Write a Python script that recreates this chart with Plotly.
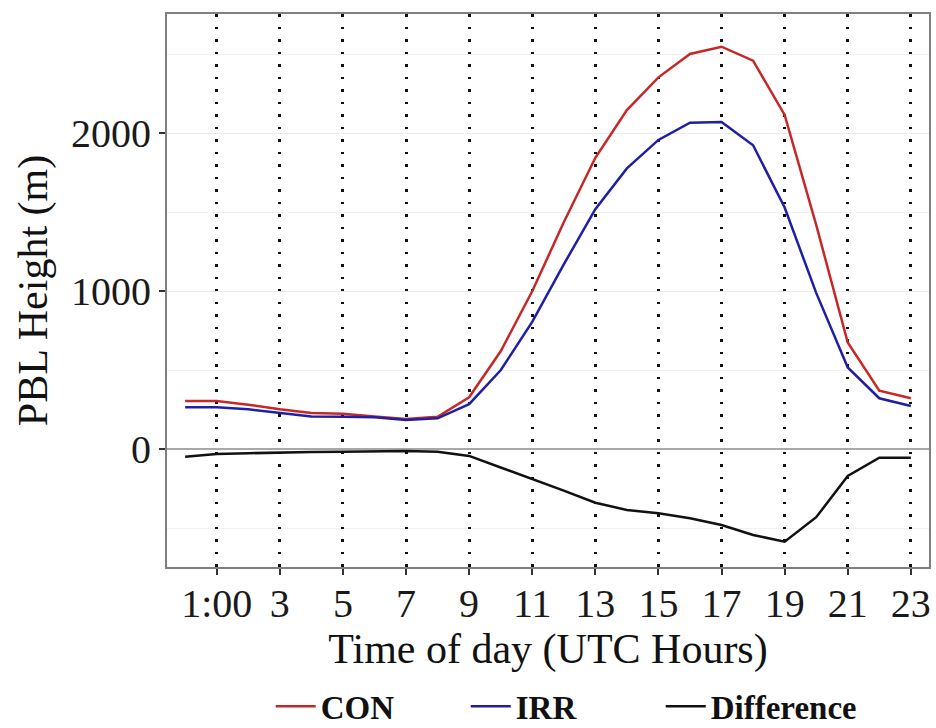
import plotly.graph_objects as go

# Hourly mean planetary boundary layer height (m), UTC hours 0-23
hours = list(range(24))
con = [305, 305, 282, 253, 230, 225, 207, 192, 206, 329, 620, 1000,
       1437, 1845, 2147, 2354, 2502, 2548, 2460, 2116, 1420, 676, 371, 323]
irr = [266, 266, 253, 228, 207, 206, 202, 186, 196, 286, 500, 806,
       1170, 1520, 1778, 1958, 2067, 2071, 1924, 1530, 990, 518, 323, 274]
diff = [-47, -30, -25, -19, -17, -15, -13, -11, -15, -42, -115, -186,
        -262, -338, -384, -405, -437, -479, -542, -585, -430, -169, -53, -53]

x_ticks = [1, 3, 5, 7, 9, 11, 13, 15, 17, 19, 21, 23]
x_labels = ["1:00", "3", "5", "7", "9", "11", "13", "15", "17", "19", "21", "23"]
y_ticks = [0, 1000, 2000]
y_minor = [-500, 500, 1500, 2500]

SERIF = "Liberation Serif, Times New Roman, serif"

fig = go.Figure()
fig.add_trace(go.Scatter(x=hours, y=con, mode="lines", name="CON",
                         line=dict(color="#c62828", width=2.5)))
fig.add_trace(go.Scatter(x=hours, y=irr, mode="lines", name="IRR",
                         line=dict(color="#1f1fa5", width=2.5)))
fig.add_trace(go.Scatter(x=hours, y=diff, mode="lines", name="Difference",
                         line=dict(color="#111111", width=2.5)))

fig.update_layout(
    width=936, height=728,
    margin=dict(l=167, r=7, t=14, b=161, autoexpand=False),
    paper_bgcolor="white", plot_bgcolor="white",
    font=dict(family=SERIF, color="#111111"),
    showlegend=True,
    legend=dict(orientation="h", x=0.52, xanchor="center", y=-0.252, yanchor="middle",
                font=dict(family=SERIF, size=33, color="#111111", weight="bold"),
                entrywidth=140, itemwidth=40, bgcolor="rgba(0,0,0,0)"),
)

fig.update_xaxes(
    range=[-0.575, 23.575], automargin=False,
    tickmode="array", tickvals=x_ticks, ticktext=x_labels,
    tickfont=dict(family=SERIF, size=40, color="#1a1a1a"),
    ticks="outside", ticklen=6, tickwidth=2, tickcolor="#333333",
    ticklabelstandoff=-6,
    showgrid=True, gridcolor="#111111", gridwidth=2.5, griddash="2.5px,10px",
    showline=True, linecolor="#7f7f7f", linewidth=2, mirror=True,
    zeroline=False,
    title=dict(text="Time of day (UTC Hours)", font=dict(family=SERIF, size=42, color="#111111"),
               standoff=4),
)

fig.update_yaxes(
    range=[-745, 2755], automargin=False,
    tickmode="array", tickvals=y_ticks,
    tickfont=dict(family=SERIF, size=40, color="#1a1a1a"),
    ticks="outside", ticklen=6, tickwidth=2, tickcolor="#333333",
    showgrid=True, gridcolor="#ebebeb", gridwidth=1.2,
    minor=dict(tickvals=y_minor, showgrid=True, gridcolor="#f2f2f2", gridwidth=1, ticks=""),
    showline=True, linecolor="#7f7f7f", linewidth=2, mirror=True,
    zeroline=True, zerolinecolor="#a8a8a8", zerolinewidth=2,
    title=dict(text="PBL Height (m)", font=dict(family=SERIF, size=42, color="#111111"),
               standoff=10),
)

fig.write_html("out.html")
